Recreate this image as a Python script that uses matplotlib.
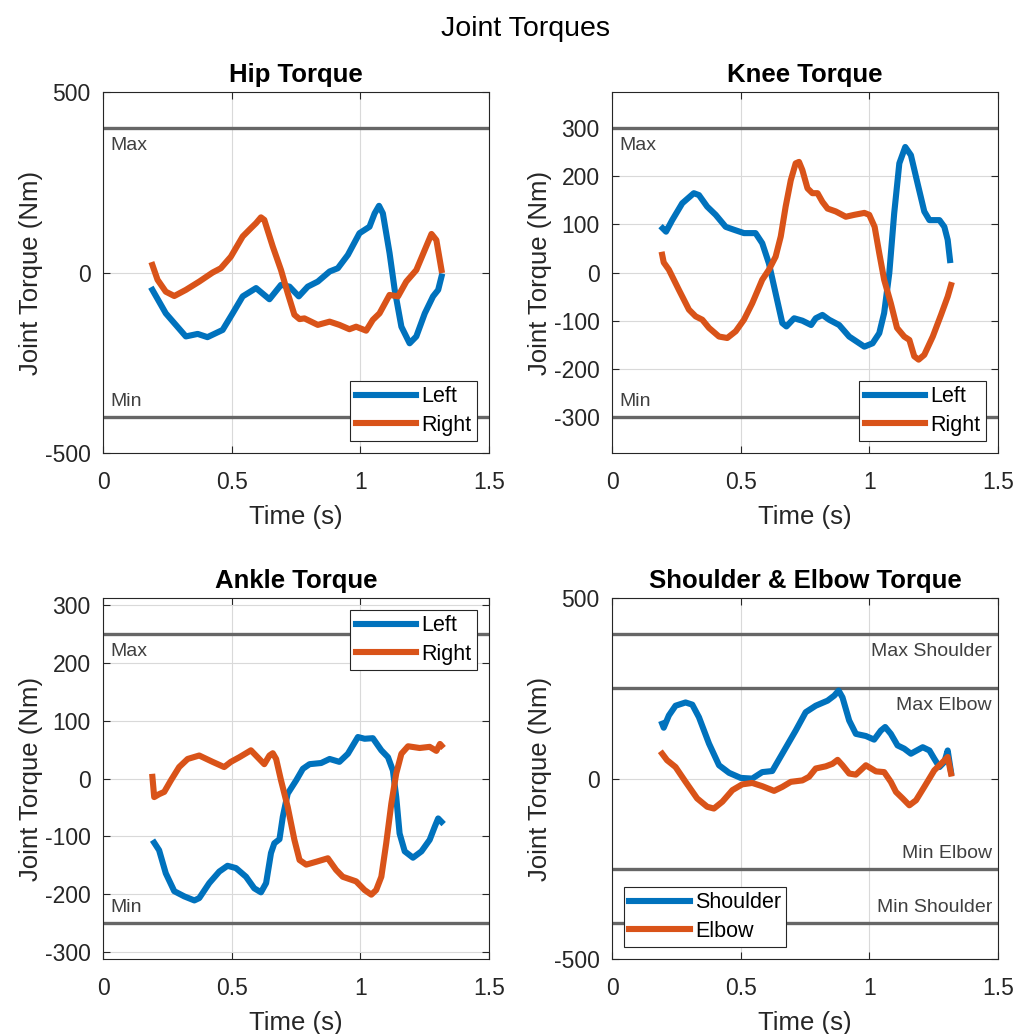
import matplotlib
matplotlib.use("Agg")
import matplotlib.pyplot as plt
import numpy as np

plt.rcParams['font.family'] = ['Liberation Sans', 'DejaVu Sans']
plt.rcParams['axes.unicode_minus'] = False

# ---- data -----------------------------------------------------------------
hip_left_t = [0.192, 0.244, 0.322, 0.368, 0.406, 0.465, 0.504, 0.543, 0.595, 0.647, 0.692, 0.725,
              0.761, 0.796, 0.835, 0.881, 0.913, 0.952, 0.997, 1.036, 1.056, 1.073, 1.088, 1.114,
              1.134, 1.160, 1.192, 1.218, 1.251, 1.283, 1.303, 1.316]
hip_left = [-48, -113, -177, -170, -179, -159, -113, -66, -43, -74, -34, -39,
            -66, -39, -25, 3, 12, 49, 109, 127, 164, 185, 164, 54,
            -48, -150, -196, -177, -113, -66, -48, -11]

hip_right_t = [0.192, 0.212, 0.244, 0.277, 0.322, 0.374, 0.426, 0.458, 0.497, 0.543, 0.575, 0.595,
               0.614, 0.627, 0.660, 0.692, 0.718, 0.744, 0.764, 0.783, 0.835, 0.881, 0.919, 0.958,
               0.984, 1.023, 1.049, 1.075, 1.114, 1.147, 1.179, 1.218, 1.251, 1.277, 1.296, 1.316]
hip_right = [21, -20, -53, -65, -48, -25, 0, 12, 44, 100, 123, 137,
             153, 146, 72, 7, -57, -117, -129, -127, -145, -136, -145, -157,
             -150, -161, -131, -113, -62, -66, -25, 7, 63, 107, 90, 7]

knee_left_t = [0.197, 0.210, 0.234, 0.273, 0.318, 0.338, 0.370, 0.403, 0.442, 0.474, 0.513, 0.558,
               0.584, 0.610, 0.636, 0.662, 0.678, 0.708, 0.740, 0.774, 0.792, 0.818, 0.844, 0.883,
               0.922, 0.981, 1.013, 1.039, 1.058, 1.078, 1.097, 1.117, 1.140, 1.162, 1.188, 1.214,
               1.234, 1.273, 1.292, 1.305, 1.314]
knee_left = [92, 85, 109, 144, 165, 161, 137, 120, 95, 89, 82, 82,
             61, 19, -43, -105, -112, -95, -100, -109, -95, -88, -98, -109,
             -133, -154, -147, -126, -84, -1, 123, 227, 261, 244, 185, 127,
             109, 109, 95, 68, 26]

knee_right_t = [0.195, 0.201, 0.221, 0.260, 0.299, 0.325, 0.351, 0.377, 0.416, 0.448, 0.481, 0.513,
                0.545, 0.584, 0.610, 0.636, 0.656, 0.675, 0.695, 0.714, 0.727, 0.740, 0.760, 0.779,
                0.799, 0.818, 0.838, 0.870, 0.909, 0.942, 0.981, 1.000, 1.021, 1.039, 1.058, 1.084,
                1.108, 1.136, 1.156, 1.175, 1.192, 1.214, 1.247, 1.279, 1.305, 1.318]
knee_right = [37, 21, 6, -36, -77, -91, -98, -115, -133, -136, -122, -98,
              -64, -15, 6, 33, 75, 137, 192, 227, 230, 213, 175, 165,
              165, 147, 133, 127, 116, 120, 124, 120, 95, 40, -15, -64,
              -115, -133, -140, -174, -181, -171, -133, -88, -50, -26]

ankle_left_t = [0.199, 0.218, 0.244, 0.277, 0.316, 0.355, 0.374, 0.413, 0.452, 0.484, 0.517, 0.556,
                0.588, 0.614, 0.634, 0.653, 0.666, 0.686, 0.699, 0.718, 0.751, 0.777, 0.803, 0.848,
                0.881, 0.919, 0.952, 0.991, 1.017, 1.049, 1.082, 1.108, 1.127, 1.140, 1.153, 1.173,
                1.205, 1.238, 1.270, 1.290, 1.303, 1.316]
ankle_left = [-111, -124, -164, -195, -204, -211, -207, -181, -161, -151, -155, -170,
              -190, -197, -181, -129, -112, -105, -66, -26, -3, 17, 25, 27,
              34, 29, 43, 72, 69, 70, 49, 37, 14, -32, -95, -126,
              -137, -126, -106, -83, -69, -75]

ankle_right_t = [0.192, 0.199, 0.218, 0.238, 0.264, 0.296, 0.329, 0.374, 0.426, 0.471, 0.497, 0.530,
                 0.575, 0.601, 0.627, 0.647, 0.660, 0.673, 0.692, 0.718, 0.744, 0.764, 0.790, 0.829,
                 0.874, 0.906, 0.932, 0.984, 1.017, 1.043, 1.062, 1.082, 1.101, 1.121, 1.140, 1.160,
                 1.186, 1.231, 1.270, 1.296, 1.310, 1.316]
ankle_right = [3, -32, -27, -23, -3, 20, 34, 40, 29, 20, 29, 37,
               49, 37, 25, 40, 44, 34, -3, -49, -106, -141, -149, -144,
               -138, -158, -170, -178, -193, -201, -193, -170, -112, -43, 9, 43,
               56, 53, 55, 48, 60, 57]

shoulder_t = [0.195, 0.201, 0.221, 0.247, 0.286, 0.312, 0.338, 0.377, 0.416, 0.455, 0.500, 0.545,
              0.584, 0.623, 0.662, 0.714, 0.753, 0.792, 0.838, 0.864, 0.881, 0.896, 0.922, 0.948,
              0.987, 1.019, 1.045, 1.062, 1.084, 1.110, 1.136, 1.162, 1.208, 1.234, 1.253, 1.273,
              1.292, 1.305, 1.318]
shoulder = [152, 141, 175, 202, 211, 205, 170, 97, 37, 16, 2, 0,
            18, 21, 69, 133, 184, 202, 216, 230, 244, 225, 161, 124,
            118, 108, 133, 143, 124, 92, 83, 69, 87, 78, 55, 32,
            46, 78, 18]

elbow_t = [0.195, 0.214, 0.247, 0.286, 0.331, 0.370, 0.396, 0.429, 0.468, 0.506, 0.545, 0.584,
           0.630, 0.662, 0.695, 0.740, 0.766, 0.792, 0.831, 0.857, 0.877, 0.896, 0.922, 0.948,
           0.987, 1.026, 1.058, 1.084, 1.104, 1.130, 1.156, 1.182, 1.214, 1.253, 1.286, 1.305,
           1.318]
elbow = [69, 51, 32, -9, -55, -78, -83, -64, -32, -16, -12, -21,
         -34, -23, -9, -5, 5, 28, 34, 41, 52, 37, 14, 11,
         37, 20, 18, -9, -37, -55, -74, -60, -23, 23, 46, 60,
         14]

hip_limit = 400
knee_limit = 300
ankle_limit = 250
shoulder_limit = 400
elbow_limit = 250

hip_yticks = [-500, 0, 500]
knee_yticks = [-300, -200, -100, 0, 100, 200, 300]
ankle_yticks = [-300, -200, -100, 0, 100, 200, 300]
arm_yticks = [-500, 0, 500]
time_ticks = [0, 0.5, 1, 1.5]

# ---- style ----------------------------------------------------------------
BLUE = '#0072BD'
ORANGE = '#D95319'
LIMIT = '#666666'
INK = '#262626'
LW = 4.4

fig = plt.figure(figsize=(10.18, 10.34), dpi=100)
fig.text(0.516, 0.972, 'Joint Torques', ha='center', va='center',
         fontsize=20.5, color='black')

W, H = 0.379, 0.349
positions = [(0.1012, 0.5619), (0.6012, 0.5619), (0.1012, 0.0725), (0.6012, 0.0725)]


def style_axes(ax, title, ylim, yticks):
    ax.set_xlim(0, 1.5)
    ax.set_ylim(*ylim)
    ax.set_xticks(time_ticks)
    ax.set_xticklabels(['0', '0.5', '1', '1.5'])
    ax.set_yticks(yticks)
    ax.set_yticklabels([str(v) for v in yticks])
    ax.tick_params(direction='in', length=5, width=0.8, top=True, right=True,
                   labelsize=16.5, colors=INK)
    ax.tick_params(axis='x', pad=13)
    ax.tick_params(axis='y', pad=9)
    ax.grid(True, color='#d9d9d9', linewidth=0.8)
    ax.set_axisbelow(True)
    for s in ax.spines.values():
        s.set_color(INK)
        s.set_linewidth(0.8)
    ax.set_title(title, fontsize=18.5, fontweight='bold', color='black', pad=7)
    ax.set_xlabel('Time (s)', fontsize=18.5, color=INK, labelpad=8)
    ax.set_ylabel('Joint Torque (Nm)', fontsize=18.5, color=INK, labelpad=1)


def limit_line(ax, y, label, above, right=False):
    ax.axhline(y, color=LIMIT, linewidth=2.4, zorder=1.5)
    x = 0.985 if right else 0.018
    ax.annotate(label, xy=(x, y), xycoords=('axes fraction', 'data'),
                xytext=(0, 5 if above else -6), textcoords='offset points',
                ha='right' if right else 'left',
                va='bottom' if above else 'top',
                fontsize=14, color='#404040')


def legend(ax, loc):
    leg = ax.legend(loc=loc, fontsize=15.5, handlelength=2.8, handletextpad=0.25,
                    labelspacing=0.35, borderpad=0.25, borderaxespad=0.55,
                    fancybox=False, framealpha=1, edgecolor=INK)
    leg.get_frame().set_linewidth(0.8)
    for t in leg.get_texts():
        t.set_color('black')


# Hip
ax = fig.add_axes([*positions[0], W, H])
ax.plot(hip_left_t, hip_left, color=BLUE, lw=LW, label='Left', zorder=3)
ax.plot(hip_right_t, hip_right, color=ORANGE, lw=LW, label='Right', zorder=3)
limit_line(ax, hip_limit, 'Max', above=False)
limit_line(ax, -hip_limit, 'Min', above=True)
style_axes(ax, 'Hip Torque', (-1.25 * hip_limit, 1.25 * hip_limit), hip_yticks)
legend(ax, 'lower right')

# Knee
ax = fig.add_axes([*positions[1], W, H])
ax.plot(knee_left_t, knee_left, color=BLUE, lw=LW, label='Left', zorder=3)
ax.plot(knee_right_t, knee_right, color=ORANGE, lw=LW, label='Right', zorder=3)
limit_line(ax, knee_limit, 'Max', above=False)
limit_line(ax, -knee_limit, 'Min', above=True)
style_axes(ax, 'Knee Torque', (-1.25 * knee_limit, 1.25 * knee_limit), knee_yticks)
legend(ax, 'lower right')

# Ankle
ax = fig.add_axes([*positions[2], W, H])
ax.plot(ankle_left_t, ankle_left, color=BLUE, lw=LW, label='Left', zorder=3)
ax.plot(ankle_right_t, ankle_right, color=ORANGE, lw=LW, label='Right', zorder=3)
limit_line(ax, ankle_limit, 'Max', above=False)
limit_line(ax, -ankle_limit, 'Min', above=True)
style_axes(ax, 'Ankle Torque', (-1.25 * ankle_limit, 1.25 * ankle_limit), ankle_yticks)
legend(ax, 'upper right')

# Shoulder & Elbow
ax = fig.add_axes([*positions[3], W, H])
ax.plot(shoulder_t, shoulder, color=BLUE, lw=LW, label='Shoulder', zorder=3)
ax.plot(elbow_t, elbow, color=ORANGE, lw=LW, label='Elbow', zorder=3)
limit_line(ax, shoulder_limit, 'Max Shoulder', above=False, right=True)
limit_line(ax, elbow_limit, 'Max Elbow', above=False, right=True)
limit_line(ax, -elbow_limit, 'Min Elbow', above=True, right=True)
limit_line(ax, -shoulder_limit, 'Min Shoulder', above=True, right=True)
style_axes(ax, 'Shoulder & Elbow Torque', (-1.25 * shoulder_limit, 1.25 * shoulder_limit), arm_yticks)
legend(ax, 'lower left')

fig.savefig('out.png', dpi=100)
